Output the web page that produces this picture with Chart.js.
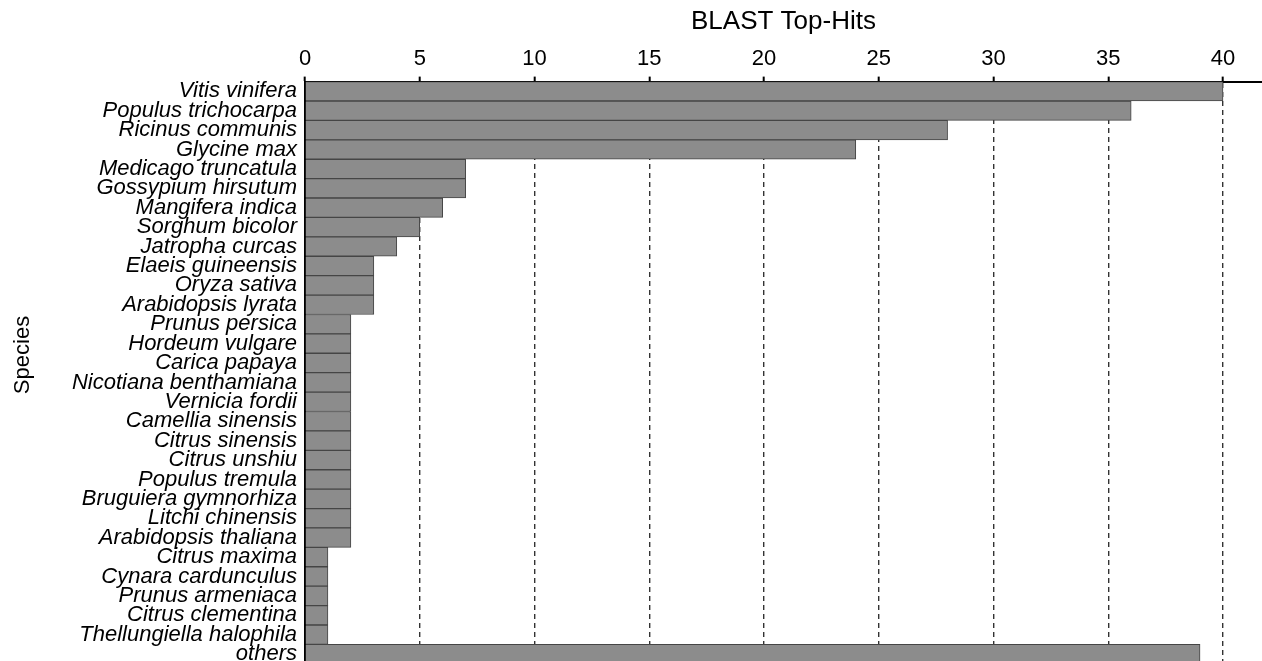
<!DOCTYPE html>
<html>
<head>
<meta charset="utf-8">
<script src="https://cdn.jsdelivr.net/npm/chart.js@4/dist/chart.umd.min.js"></script>
<style>
  html, body { margin: 0; padding: 0; background: #fff; overflow: hidden; }
  #wrap { width: 1262px; height: 677px; position: relative; }
</style>
</head>
<body>
<div id="wrap"><canvas id="chart"></canvas></div>
<script>
const species = [
  'Vitis vinifera', 'Populus trichocarpa', 'Ricinus communis', 'Glycine max',
  'Medicago truncatula', 'Gossypium hirsutum', 'Mangifera indica', 'Sorghum bicolor',
  'Jatropha curcas', 'Elaeis guineensis', 'Oryza sativa', 'Arabidopsis lyrata',
  'Prunus persica', 'Hordeum vulgare', 'Carica papaya', 'Nicotiana benthamiana',
  'Vernicia fordii', 'Camellia sinensis', 'Citrus sinensis', 'Citrus unshiu',
  'Populus tremula', 'Bruguiera gymnorhiza', 'Litchi chinensis', 'Arabidopsis thaliana',
  'Citrus maxima', 'Cynara cardunculus', 'Prunus armeniaca', 'Citrus clementina',
  'Thellungiella halophila', 'others'
];
const topHits = [
  40, 36, 28, 24,
  7, 7, 6, 5,
  4, 3, 3, 3,
  2, 2, 2, 2,
  2, 2, 2, 2,
  2, 2, 2, 2,
  1, 1, 1, 1,
  1, 39
];
const xTicks = [0, 5, 10, 15, 20, 25, 30, 35, 40];

const fontFamily = '"Liberation Sans", Arial, sans-serif';

// y-axis title sits a little above the middle of the plot in the original
const speciesTitle = {
  id: 'speciesTitle',
  afterDraw(chart) {
    const { ctx } = chart;
    ctx.save();
    ctx.translate(23, 355);
    ctx.rotate(-Math.PI / 2);
    ctx.font = `22px ${fontFamily}`;
    ctx.fillStyle = '#000';
    ctx.textAlign = 'center';
    ctx.textBaseline = 'middle';
    ctx.fillText('Species', 0, 0);
    ctx.restore();
  },
};

new Chart(document.getElementById('chart'), {
  type: 'bar',
  data: {
    labels: species,
    datasets: [{
      data: topHits,
      backgroundColor: '#8c8c8c',
      borderColor: '#454545',
      borderWidth: 1,
      barPercentage: 1,
      categoryPercentage: 1,
    }],
  },
  options: {
    indexAxis: 'y',
    responsive: true,
    maintainAspectRatio: false,
    animation: false,
    layout: { padding: { top: 4, right: 0, bottom: 0, left: 0 } },
    scales: {
      x: {
        position: 'top',
        min: 0,
        max: 41.7,
        z: 1,
        afterBuildTicks: axis => {
          axis.ticks = xTicks.map(v => ({ value: v }));
        },
        ticks: { stepSize: 5, padding: 4, color: '#000', font: { family: fontFamily, size: 22 } },
        grid: {
          color: '#333',
          lineWidth: 1.4,
          tickLength: 5,
          tickColor: '#000',
          tickWidth: 2,
        },
        border: { display: true, color: '#000', width: 2, dash: [5, 4] },
        title: {
          display: true,
          text: 'BLAST Top-Hits',
          color: '#000',
          font: { family: fontFamily, size: 26 },
          padding: { top: 2, bottom: 5 },
        },
      },
      y: {
        z: 2,
        afterFit: scale => { scale.width = 305; },
        ticks: {
          autoSkip: false,
          padding: 0,
          color: '#000',
          font: { family: fontFamily, size: 22, style: 'italic' },
        },
        grid: { display: false },
        border: { display: true, color: '#000', width: 2 },
      },
    },
    plugins: {
      legend: { display: false },
      tooltip: { enabled: false },
    },
  },
  plugins: [speciesTitle],
});
</script>
</body>
</html>
